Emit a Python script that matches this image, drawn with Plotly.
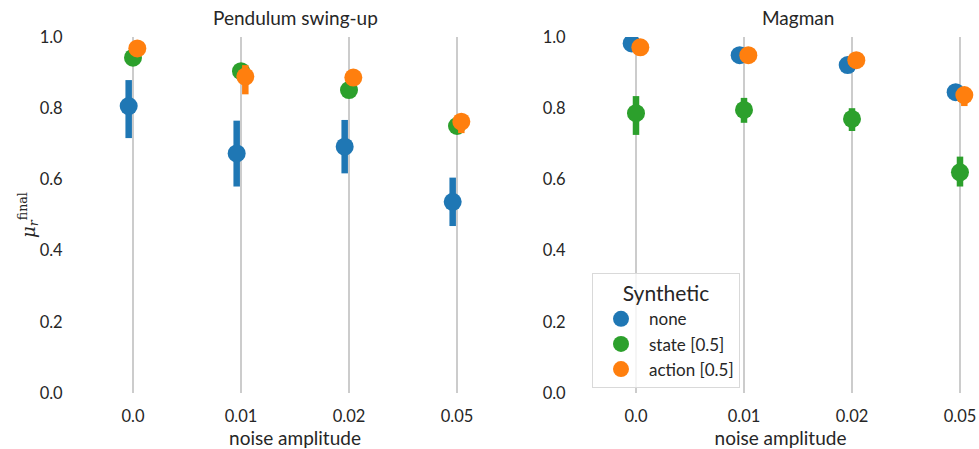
import plotly.graph_objects as go

categories = ["0.0", "0.01", "0.02", "0.05"]
series = ["none", "state [0.5]", "action [0.5]"]
colors = ["#1f77b4", "#2ca02c", "#ff7f0e"]
offsets = [-0.04, 0.0, 0.04]

# Pendulum swing-up: means, upper and lower CI bounds
pend_mean = {
    "none": [0.806, 0.673, 0.692, 0.537],
    "state [0.5]": [0.942, 0.904, 0.851, 0.750],
    "action [0.5]": [0.968, 0.889, 0.886, 0.762],
}
pend_hi = {
    "none": [0.879, 0.765, 0.767, 0.605],
    "state [0.5]": [0.950, 0.912, 0.858, 0.756],
    "action [0.5]": [0.974, 0.921, 0.892, 0.772],
}
pend_lo = {
    "none": [0.716, 0.580, 0.617, 0.469],
    "state [0.5]": [0.934, 0.896, 0.844, 0.744],
    "action [0.5]": [0.962, 0.839, 0.880, 0.730],
}

# Magman
mag_mean = {
    "none": [0.982, 0.949, 0.921, 0.845],
    "state [0.5]": [0.786, 0.795, 0.770, 0.620],
    "action [0.5]": [0.971, 0.949, 0.935, 0.837],
}
mag_hi = {
    "none": [0.988, 0.955, 0.927, 0.851],
    "state [0.5]": [0.834, 0.829, 0.800, 0.664],
    "action [0.5]": [0.977, 0.955, 0.941, 0.850],
}
mag_lo = {
    "none": [0.976, 0.943, 0.915, 0.839],
    "state [0.5]": [0.725, 0.759, 0.736, 0.580],
    "action [0.5]": [0.965, 0.943, 0.929, 0.806],
}

yticks = [0.0, 0.2, 0.4, 0.6, 0.8, 1.0]

W, H = 979, 449
FONT = "Lato"
TXT = "#262626"

fig = go.Figure()

panels = [
    ("x", "y", pend_mean, pend_hi, pend_lo, True),
    ("x2", "y2", mag_mean, mag_hi, mag_lo, False),
]
for xa, ya, mean, hi, lo, first in panels:
    for s, c, off in zip(series, colors, offsets):
        m = mean[s]
        fig.add_trace(go.Scatter(
            x=[i + off for i in range(len(categories))],
            y=m,
            mode="markers",
            name=s,
            showlegend=not first,
            legendgroup=s,
            marker=dict(color=c, size=18, line=dict(width=0)),
            error_y=dict(
                type="data", symmetric=False,
                array=[h - v for h, v in zip(hi[s], m)],
                arrayminus=[v - l for l, v in zip(lo[s], m)],
                color=c, thickness=6.5, width=0,
            ),
            xaxis=xa, yaxis=ya,
        ))

ydom = [(H - 393) / H, (H - 37) / H]
xcommon = dict(
    tickmode="array", tickvals=list(range(len(categories))), ticktext=categories,
    showgrid=True, gridcolor="#cccccc", gridwidth=1.5, zeroline=False, showline=False,
    ticks="outside", ticklen=8, tickcolor="rgba(0,0,0,0)",
    tickfont=dict(family=FONT, size=16.5, color=TXT),
    title=dict(text="noise amplitude", font=dict(family=FONT, size=19, color=TXT), standoff=4),
    automargin=False,
)
ycommon = dict(
    range=[0, 1], tickmode="array", tickvals=yticks,
    ticktext=[f"{v:.1f}" for v in yticks],
    showgrid=False, zeroline=False, showline=False,
    ticks="outside", ticklen=12, tickcolor="rgba(0,0,0,0)",
    tickfont=dict(family=FONT, size=16.5, color=TXT),
    domain=ydom, automargin=False,
)

fig.update_layout(
    width=W, height=H,
    margin=dict(l=0, r=0, t=0, b=0),
    paper_bgcolor="white", plot_bgcolor="white",
    font=dict(family=FONT, color=TXT),
    xaxis=dict(xcommon, domain=[79 / W, 511 / W], range=[-0.5, 3.5]),
    xaxis2=dict(xcommon, domain=[582 / W, 1.0], range=[-0.5, 3.176]),
    yaxis=dict(ycommon, anchor="x"),
    yaxis2=dict(ycommon, anchor="x2"),
    legend=dict(
        title=dict(text="Synthetic", font=dict(family=FONT, size=21, color=TXT), side="top center"),
        font=dict(family=FONT, size=17, color=TXT),
        x=592 / W, y=(H - 273) / H, xanchor="left", yanchor="top",
        bordercolor="#d9d9d9", borderwidth=1, bgcolor="rgba(255,255,255,0.8)",
        tracegroupgap=0, itemsizing="trace", itemwidth=46,
    ),
    annotations=[
        dict(text="Pendulum swing-up", x=295 / W, y=(H - 18) / H, xref="paper", yref="paper",
             xanchor="center", yanchor="middle",
             showarrow=False, font=dict(family=FONT, size=19, color=TXT)),
        dict(text="Magman", x=798 / W, y=(H - 18) / H, xref="paper", yref="paper",
             xanchor="center", yanchor="middle",
             showarrow=False, font=dict(family=FONT, size=19, color=TXT)),
        dict(text="<i>μ</i><sub><i>r</i></sub><sup>final</sup>", x=28 / W, y=(H - 215) / H,
             xref="paper", yref="paper", showarrow=False, textangle=-90,
             xanchor="center", yanchor="middle",
             font=dict(family="DejaVu Serif", size=18, color=TXT)),
    ],
)

fig.write_html("out.html")
